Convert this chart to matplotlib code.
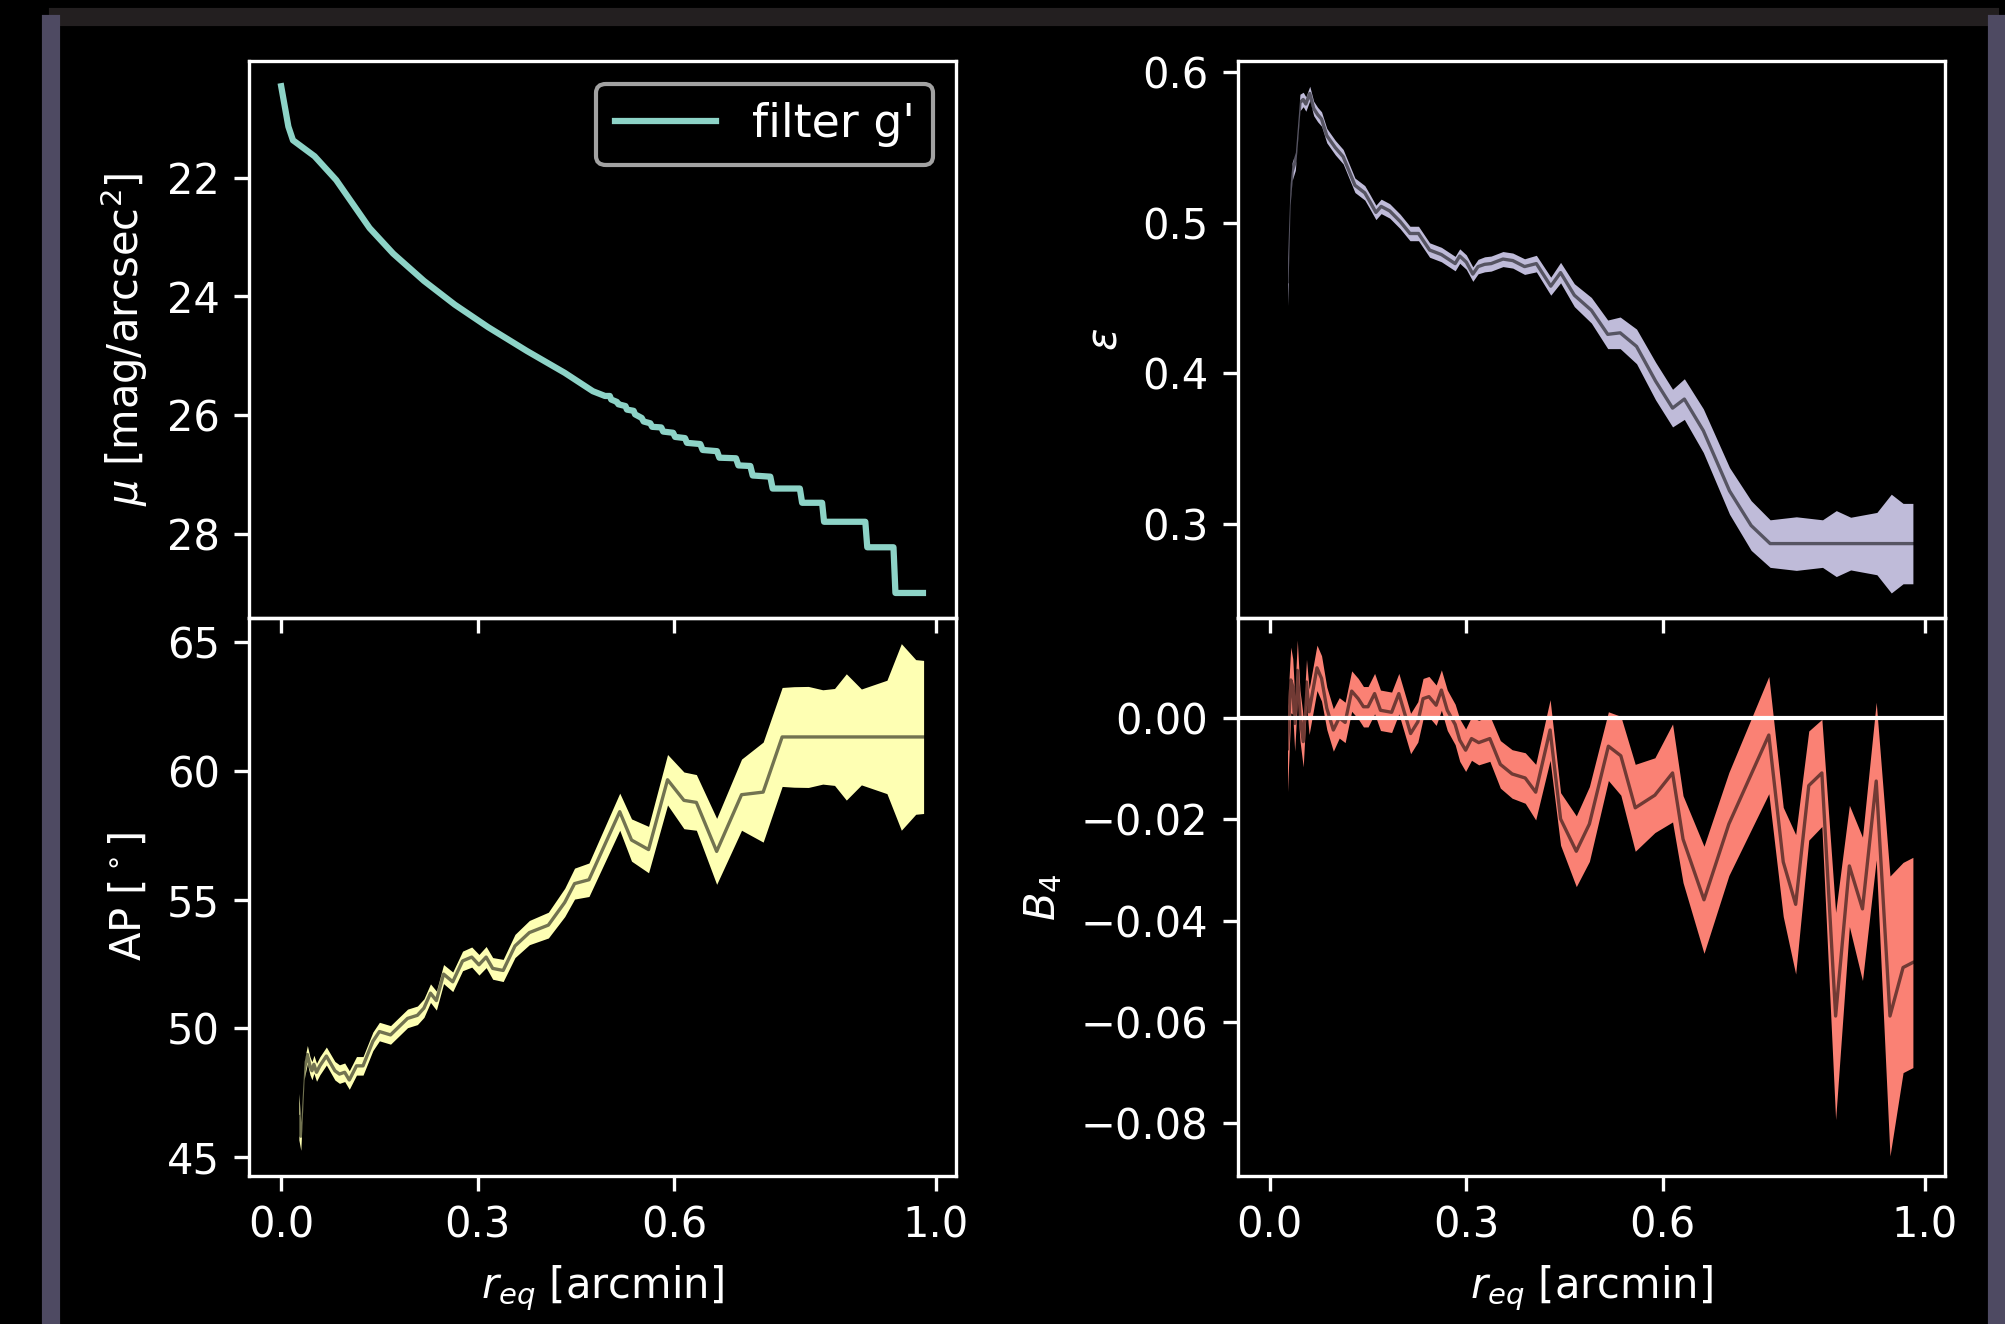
import matplotlib
matplotlib.use('Agg')
import matplotlib.pyplot as plt
import numpy as np
from matplotlib.patches import Rectangle

plt.style.use('dark_background')

# surface brightness profile, filter g'
r_mu = [0.000, 0.011, 0.018, 0.051, 0.084, 0.135, 0.171, 0.218, 0.265, 0.316,
        0.375, 0.433, 0.476,
        0.4945, 0.5018, 0.5040, 0.5127, 0.5149, 0.5258, 0.5280, 0.5382, 0.5404,
        0.5505, 0.5535, 0.5636, 0.5665, 0.5804, 0.5833, 0.5985, 0.6015, 0.6167,
        0.6196, 0.6400, 0.6436, 0.6655, 0.6691, 0.6945, 0.6982, 0.7164, 0.7200,
        0.7469, 0.7505, 0.7920, 0.7955, 0.8260, 0.8290, 0.8920, 0.8950, 0.9350,
        0.9380, 0.9800]
mu = [20.46, 21.14, 21.37, 21.64, 22.04, 22.85, 23.28, 23.74, 24.14, 24.52,
      24.92, 25.29, 25.60,
      25.68, 25.68, 25.74, 25.78, 25.82, 25.85, 25.91, 25.93, 25.99,
      26.05, 26.11, 26.14, 26.20, 26.21, 26.28, 26.30, 26.37, 26.39,
      26.47, 26.49, 26.59, 26.61, 26.72, 26.73, 26.85, 26.86, 27.02,
      27.04, 27.24, 27.24, 27.48, 27.48, 27.80, 27.80, 28.23, 28.23,
      29.00, 29.00]

# position angle
r_ap = [0.027, 0.030, 0.035, 0.040, 0.044, 0.047, 0.050, 0.054, 0.059, 0.069,
        0.082, 0.089, 0.097, 0.104, 0.115, 0.125, 0.140, 0.150, 0.167, 0.180,
        0.193, 0.208, 0.218, 0.228, 0.237, 0.248, 0.262, 0.277, 0.291, 0.302,
        0.313, 0.323, 0.339, 0.357, 0.379, 0.408, 0.433, 0.448, 0.470, 0.517,
        0.535, 0.561, 0.590, 0.615, 0.634, 0.665, 0.703, 0.736, 0.765, 0.783,
        0.805, 0.827, 0.845, 0.863, 0.886, 0.925, 0.947, 0.969, 0.981]
ap = [46.58, 45.82, 48.36, 48.99, 48.55, 48.36, 48.61, 48.30, 48.55, 48.93,
      48.36, 48.23, 48.30, 48.00, 48.55, 48.55, 49.50, 49.88, 49.75, 50.07,
      50.39, 50.51, 50.79, 51.37, 51.08, 52.11, 51.81, 52.62, 52.77, 52.47,
      52.77, 52.33, 52.25, 53.20, 53.72, 54.01, 54.89, 55.62, 55.77, 58.41,
      57.31, 56.94, 59.65, 58.85, 58.77, 56.87, 59.07, 59.17, 61.31, 61.31,
      61.31, 61.31, 61.31, 61.31, 61.31, 61.31, 61.31, 61.31, 61.31]
ap_err = [0.90, 0.55, 0.35, 0.35, 0.35, 0.35, 0.35, 0.35, 0.35, 0.35,
          0.36, 0.36, 0.36, 0.36, 0.36, 0.36, 0.36, 0.36, 0.36, 0.36,
          0.36, 0.36, 0.36, 0.36, 0.37, 0.37, 0.38, 0.38, 0.39, 0.40,
          0.41, 0.42, 0.43, 0.45, 0.47, 0.50, 0.55, 0.60, 0.65, 0.72,
          0.82, 0.90, 0.98, 1.10, 1.08, 1.28, 1.38, 1.94, 1.92, 1.95,
          1.96, 1.83, 1.88, 2.45, 1.86, 2.20, 3.62, 3.00, 2.97]

# ellipticity
r_eps = [0.027, 0.031, 0.034, 0.039, 0.046, 0.051, 0.055, 0.061, 0.067, 0.073,
         0.079, 0.087, 0.100, 0.112, 0.130, 0.145, 0.153, 0.162, 0.170, 0.183,
         0.199, 0.214, 0.227, 0.244, 0.262, 0.283, 0.290, 0.300, 0.310, 0.318,
         0.328, 0.338, 0.356, 0.371, 0.389, 0.407, 0.429, 0.444, 0.465, 0.491,
         0.516, 0.535, 0.560, 0.589, 0.615, 0.633, 0.662, 0.702, 0.735, 0.764,
         0.804, 0.844, 0.865, 0.887, 0.927, 0.949, 0.967, 0.982]
eps = [0.461, 0.519, 0.534, 0.541, 0.580, 0.582, 0.579, 0.586, 0.576, 0.572,
       0.569, 0.558, 0.550, 0.544, 0.525, 0.520, 0.514, 0.507, 0.511, 0.508,
       0.501, 0.493, 0.493, 0.482, 0.479, 0.473, 0.478, 0.474, 0.466, 0.471,
       0.4725, 0.473, 0.476, 0.475, 0.471, 0.473, 0.458, 0.467, 0.452, 0.442,
       0.426, 0.427, 0.418, 0.395, 0.377, 0.383, 0.362, 0.322, 0.299, 0.287,
       0.287, 0.287, 0.287, 0.287, 0.287, 0.287, 0.287, 0.287]
eps_err = [0.016, 0.007, 0.006, 0.006, 0.0055, 0.0048, 0.0048, 0.0048, 0.0048, 0.0048,
           0.0048, 0.0048, 0.0048, 0.0048, 0.0048, 0.0048, 0.0048, 0.0048, 0.0048, 0.0048,
           0.0048, 0.0048, 0.0048, 0.0048, 0.0048, 0.0048, 0.0048, 0.0048, 0.0048, 0.0048,
           0.005, 0.005, 0.005, 0.005, 0.0052, 0.0055, 0.006, 0.0068, 0.0076, 0.0085,
           0.0095, 0.0105, 0.0115, 0.0125, 0.0125, 0.0135, 0.0145, 0.0155, 0.0165, 0.0158,
           0.0178, 0.0158, 0.0219, 0.0175, 0.0207, 0.0328, 0.0267, 0.0267]

# B4 coefficient
r_b4 = [0.027, 0.032, 0.035, 0.038, 0.042, 0.046, 0.051, 0.056, 0.060, 0.072,
        0.079, 0.087, 0.097, 0.106, 0.115, 0.125, 0.135, 0.143, 0.150, 0.160,
        0.169, 0.186, 0.197, 0.215, 0.226, 0.234, 0.243, 0.254, 0.262, 0.271,
        0.283, 0.290, 0.299, 0.308, 0.319, 0.336, 0.352, 0.370, 0.390, 0.406,
        0.428, 0.444, 0.468, 0.488, 0.517, 0.536, 0.558, 0.588, 0.615, 0.631,
        0.663, 0.701, 0.762, 0.784, 0.803, 0.823, 0.843, 0.864, 0.885, 0.905,
        0.926, 0.947, 0.967, 0.982]
b4 = [-0.0060, 0.0076, 0.0063, -0.0010, 0.0095, 0.0006, -0.0046, 0.0072, 0.0013, 0.0100,
      0.0079, 0.0020, -0.0023, 0.0001, -0.0008, 0.0054, 0.0039, 0.0023, 0.0023, 0.0049,
      0.0016, 0.0012, 0.0049, -0.0030, -0.0007, 0.0039, 0.0043, 0.0026, 0.0056, 0.0016,
      -0.0012, -0.0043, -0.0063, -0.0040, -0.0048, -0.0040, -0.0091, -0.0110, -0.0118, -0.0146,
      -0.0023, -0.0199, -0.0263, -0.0209, -0.0055, -0.0074, -0.0177, -0.0152, -0.0108, -0.0239,
      -0.0359, -0.0209, -0.0033, -0.0284, -0.0368, -0.0133, -0.0108, -0.0589, -0.0292, -0.0377,
      -0.0124, -0.0589, -0.0493, -0.0483]
b4_err = [0.0085, 0.0065, 0.0055, 0.0055, 0.006, 0.005, 0.005, 0.0045, 0.0045, 0.0045,
          0.0045, 0.0042, 0.0042, 0.004, 0.004, 0.004, 0.004, 0.004, 0.004, 0.004,
          0.004, 0.004, 0.004, 0.004, 0.004, 0.004, 0.004, 0.004, 0.004, 0.004,
          0.004, 0.0042, 0.0042, 0.0043, 0.0044, 0.0045, 0.0047, 0.0048, 0.005, 0.0055,
          0.006, 0.0052, 0.007, 0.0074, 0.0068, 0.0078, 0.0086, 0.0074, 0.0097, 0.0086,
          0.0106, 0.0102, 0.0116, 0.0108, 0.0138, 0.0108, 0.0106, 0.0205, 0.012, 0.0142,
          0.0156, 0.0277, 0.0208, 0.0208]

xticks = [0.0, 0.3, 0.6, 1.0]

fig, axs = plt.subplots(2, 2, sharex=True, figsize=(2005/300., 1324/300.), dpi=300)
fig.subplots_adjust(left=0.1242, right=0.9701, top=0.954, bottom=0.112,
                    wspace=0.3976, hspace=0)

# frame bits around the figure
fig.patches.append(Rectangle((0.02544, 0.98187), 0.9706, 0.01057,
                             transform=fig.transFigure, color='#231f20', zorder=0))
fig.patches.append(Rectangle((0.02195, 0.0), 0.00698, 0.98716,
                             transform=fig.transFigure, color='#4e4a62', zorder=1))
fig.patches.append(Rectangle((0.99252, 0.0), 0.00698, 0.98716,
                             transform=fig.transFigure, color='#4e4a62', zorder=1))

ax = axs[0, 0]
ax.plot(r_mu, mu, color='#8dd3c7', label="filter g'")
ax.invert_yaxis()
ax.set_ylabel(r'$\mu$ [mag/arcsec$^2$]')
ax.legend(loc='upper right', fontsize=11, handlelength=2.2)

def band(ax, r, v, e, c):
    r = np.array(r); v = np.array(v); e = np.array(e)
    ax.fill_between(r, v - e, v + e, color=c, lw=0)
    ax.plot(r, v, color='k', alpha=0.55, lw=0.8)

ax = axs[1, 0]
band(ax, r_ap, ap, ap_err, '#feffb3')
ax.set_ylabel(r'AP [$^\circ$]')
ax.set_xlabel(r'$r_{eq}$ [arcmin]')

ax = axs[0, 1]
band(ax, r_eps, eps, eps_err, '#bfbbd9')
ax.set_ylabel(r'$\varepsilon$')

ax = axs[1, 1]
band(ax, r_b4, b4, b4_err, '#fa8174')
ax.axhline(0, color='w', lw=1)
ax.set_ylim(-0.0905, 0.0198)
ax.set_ylabel(r'$B_4$')
ax.set_xlabel(r'$r_{eq}$ [arcmin]')

for a in axs.flat:
    a.set_facecolor('none')
axs[1, 0].set_xticks(xticks)
axs[1, 0].set_xticklabels(['0.0', '0.3', '0.6', '1.0'])

fig.savefig('out.png', dpi=300)
plt.close(fig)
